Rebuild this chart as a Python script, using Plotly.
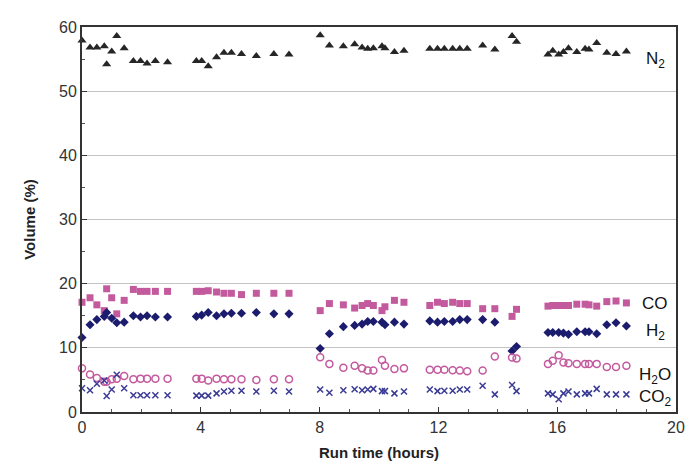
import plotly.graph_objects as go

hours = [0.0, 0.27, 0.5, 0.75, 0.83, 1.0, 1.17, 1.42, 1.73, 1.97, 2.19, 2.47, 2.88,
         3.85, 4.03, 4.25, 4.53, 4.78, 5.03, 5.37, 5.87, 6.46, 6.97,
         8.02, 8.33, 8.8, 9.18, 9.43, 9.62, 9.81, 10.1, 10.2, 10.52, 10.84,
         11.71, 11.97, 12.2, 12.48, 12.72, 12.97, 13.49, 13.9, 14.48, 14.63,
         15.69, 15.85, 16.05, 16.21, 16.38, 16.66, 16.94, 17.07, 17.33, 17.67, 17.98, 18.33]

n2 = [57.9, 56.8, 56.8, 57.0, 54.2, 56.2, 58.6, 56.7, 54.7, 54.7, 54.3, 54.7, 54.5,
      54.7, 54.7, 53.9, 55.3, 56.0, 56.0, 55.8, 55.5, 55.8, 55.7,
      58.7, 57.1, 57.0, 57.3, 56.8, 56.6, 56.7, 57.0, 56.7, 56.1, 56.3,
      56.6, 56.6, 56.6, 56.6, 56.6, 56.6, 57.1, 56.5, 58.6, 57.7,
      55.7, 56.3, 55.7, 56.1, 56.7, 56.1, 56.6, 56.5, 57.5, 56.0, 55.8, 56.2]

co = [17.1, 17.8, 16.7, 15.8, 19.2, 17.8, 15.3, 17.4, 19.1, 18.8, 18.8, 18.8, 18.8,
      18.8, 18.8, 18.9, 18.7, 18.5, 18.5, 18.3, 18.5, 18.5, 18.5,
      15.8, 16.9, 16.7, 16.2, 16.6, 16.9, 16.6, 15.8, 16.4, 17.4, 17.1,
      16.6, 17.1, 16.9, 17.1, 16.9, 16.9, 16.1, 16.1, 14.9, 16.0,
      16.5, 16.6, 16.6, 16.6, 16.6, 16.8, 16.8, 16.7, 16.5, 17.2, 17.3, 17.0]

h2 = [11.6, 13.6, 14.4, 14.9, 15.5, 14.6, 13.9, 14.0, 15.0, 14.8, 15.0, 14.8, 14.8,
      14.9, 15.1, 15.5, 15.0, 15.3, 15.4, 15.4, 15.5, 15.3, 15.3,
      9.9, 12.2, 13.3, 13.5, 13.7, 14.1, 14.1, 14.0, 13.6, 14.0, 13.7,
      14.2, 14.0, 14.1, 14.1, 14.4, 14.4, 14.4, 14.0, 9.5, 10.2,
      12.4, 12.4, 12.4, 12.3, 12.1, 12.5, 12.5, 12.5, 12.2, 13.6, 13.9, 13.4]

h2o = [6.8, 5.85, 5.3, 4.7, 4.7, 5.1, 5.2, 5.6, 5.1, 5.2, 5.2, 5.2, 5.2,
       5.2, 5.2, 4.9, 5.2, 5.1, 5.1, 5.1, 5.0, 5.1, 5.1,
       8.55, 7.5, 6.9, 7.2, 6.8, 6.45, 6.45, 8.1, 7.2, 6.7, 6.8,
       6.6, 6.6, 6.6, 6.5, 6.45, 6.35, 6.45, 8.65, 8.5, 8.35,
       7.5, 8.0, 8.85, 7.7, 7.6, 7.5, 7.5, 7.5, 7.5, 7.0, 7.0, 7.2]

co2 = [3.7, 3.4, 4.4, 4.9, 2.5, 3.5, 5.8, 3.7, 2.6, 2.6, 2.6, 2.6, 2.6,
       2.55, 2.55, 2.55, 2.9, 3.2, 3.3, 3.3, 3.2, 3.3, 3.2,
       3.5, 3.0, 3.4, 3.55, 3.4, 3.5, 3.6, 3.25, 3.25, 2.9, 3.2,
       3.5, 3.25, 3.3, 3.3, 3.5, 3.5, 4.1, 2.75, 4.2, 3.25,
       2.9, 2.75, 2.0, 2.9, 3.2, 2.75, 2.9, 2.9, 3.6, 2.75, 2.75, 2.75]

series_labels = ["N<sub>2</sub>", "CO", "H<sub>2</sub>", "H<sub>2</sub>O", "CO<sub>2</sub>"]
label_y = [54.8, 16.9, 12.5, 5.6, 2.2]
x_ticks = [0, 4, 8, 12, 16, 20]
y_ticks = [0, 10, 20, 30, 40, 50, 60]

PINK = "#c45a9e"
NAVY = "#1c1c6e"
XBLUE = "#3b3b96"

fig = go.Figure()
fig.add_trace(go.Scatter(x=hours, y=n2, mode="markers", cliponaxis=False,
                         marker=dict(symbol="triangle-up", size=8, color="#262626")))
fig.add_trace(go.Scatter(x=hours, y=co, mode="markers", cliponaxis=False,
                         marker=dict(symbol="square", size=7, color=PINK)))
fig.add_trace(go.Scatter(x=hours, y=h2, mode="markers", cliponaxis=False,
                         marker=dict(symbol="diamond", size=7, color=NAVY)))
fig.add_trace(go.Scatter(x=hours, y=h2o, mode="markers", cliponaxis=False,
                         marker=dict(symbol="circle-open", size=7, color=PINK,
                                     line=dict(width=1.5, color=PINK))))
fig.add_trace(go.Scatter(x=hours, y=co2, mode="markers", cliponaxis=False,
                         marker=dict(symbol="x-thin-open", size=6, color=XBLUE,
                                     line=dict(width=1.5, color=XBLUE))))

for txt, yy in zip(series_labels, label_y):
    fig.add_annotation(x=19.3, y=yy, xref="x", yref="y", text=txt, showarrow=False,
                       xanchor="center", yanchor="middle",
                       font=dict(family="Liberation Sans, Arial", size=17, color="#111"))

fig.update_layout(
    width=693, height=463,
    margin=dict(l=74, r=25, t=11, b=59),
    paper_bgcolor="white", plot_bgcolor="white",
    showlegend=False,
    font=dict(family="Liberation Sans, Arial", size=15, color="#333"),
)
fig.update_xaxes(
    range=[0, 20], tickvals=x_ticks, ticks="inside", ticklen=5, tickcolor="#333",
    minor=dict(dtick=1, ticks="inside", ticklen=3, tickcolor="#555"),
    showgrid=False, zeroline=False,
    showline=True, linecolor="#333", linewidth=2, mirror=True,
    tickfont=dict(size=16, color="#333"),
    title=dict(text="<b>Run time (hours)</b>", font=dict(size=15, color="#222"), standoff=12),
)
fig.update_yaxes(
    range=[0, 60], tickvals=y_ticks, ticks="inside", ticklen=5, tickcolor="#333",
    minor=dict(dtick=5, ticks="inside", ticklen=3, tickcolor="#555"),
    showgrid=True, gridcolor="#c4c4c4", gridwidth=1, zeroline=False,
    showline=True, linecolor="#333", linewidth=2, mirror=True,
    tickfont=dict(size=16, color="#333"),
    title=dict(text="<b>Volume (%)</b>", font=dict(size=15, color="#222"), standoff=20),
)

fig.write_html("out.html")
